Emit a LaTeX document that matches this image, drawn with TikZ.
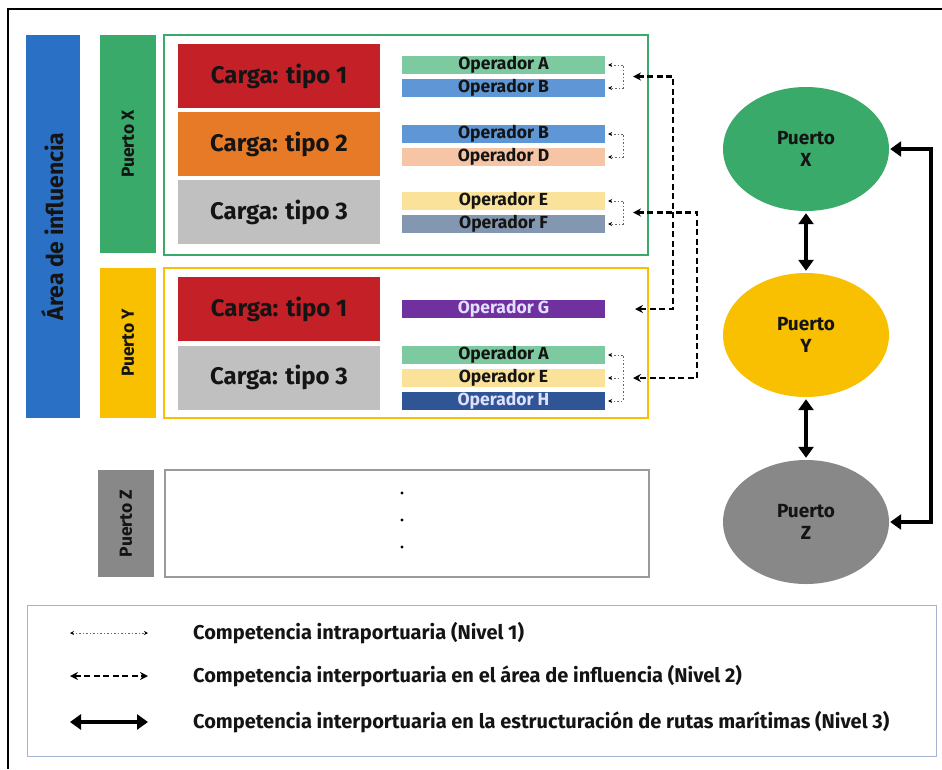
\documentclass[tikz,border=0pt]{standalone}
\usepackage{fontspec}
\setmainfont{Fira Sans}
\usetikzlibrary{positioning,shapes.geometric,arrows.meta}

\definecolor{areablue}{HTML}{2A70C4}
\definecolor{pxgreen}{HTML}{3AAA6A}
\definecolor{pyyellow}{HTML}{F8C000}
\definecolor{pzgray}{HTML}{888888}
\definecolor{framegray}{HTML}{9A9A9A}
\definecolor{cargared}{HTML}{C32127}
\definecolor{cargaorange}{HTML}{E67A26}
\definecolor{cargagray}{HTML}{C0C0C0}
\definecolor{opgreen}{HTML}{7ECAA0}
\definecolor{opblue}{HTML}{5F96D6}
\definecolor{oppeach}{HTML}{F5C5A5}
\definecolor{opyellow}{HTML}{FBE29A}
\definecolor{opslate}{HTML}{8497B0}
\definecolor{oppurple}{HTML}{7030A0}
\definecolor{opnavy}{HTML}{2F5597}
\definecolor{legendline}{HTML}{A4B4D4}
\definecolor{inkdark}{HTML}{141414}

\begin{document}
\begin{tikzpicture}[x=1pt,y=-1pt,on grid,node distance=23pt,font=\bfseries,text=inkdark,
    sidebar/.style={rotate=90,inner sep=0pt,font=\bfseries\fontsize{17.5}{17.5}\selectfont},
    portframe/.style={line width=2pt,minimum width=484pt,inner sep=0pt},
    carga/.style={minimum width=202pt,minimum height=64pt,inner sep=0pt,font=\bfseries\fontsize{24}{24}\selectfont},
    oper/.style={minimum width=203pt,minimum height=18pt,inner sep=0pt,font=\bfseries\fontsize{17.5}{17.5}\selectfont},
    puerto/.style={ellipse,minimum width=166pt,minimum height=124pt,inner sep=0pt,align=center,font=\bfseries\fontsize{19}{22}\selectfont},
    lvlone/.style={draw=black!60,line width=1pt,dash pattern=on 1.5pt off 2pt,shorten <=3pt,shorten >=3pt,{Stealth[length=4pt,width=4pt,black]}-{Stealth[length=4pt,width=4pt,black]}},
    lvltwo/.style={draw=black,line width=2.2pt,dash pattern=on 6pt off 3.5pt,{Stealth[length=8pt,width=8pt]}-{Stealth[length=8pt,width=8pt]}},
    lvlthree/.style={draw=black,line width=4pt,{Triangle[length=11pt,width=15pt]}-{Triangle[length=11pt,width=15pt]}},
    legtext/.style={anchor=west,inner sep=0pt,font=\bfseries\fontsize{20}{20}\selectfont}]
    \useasboundingbox (0,0) rectangle (942,769);
    \draw[line width=2pt] (942,9) -- (8,9) -- (8,769);

    % side bars
    \node[sidebar,fill=areablue,minimum width=383pt,minimum height=54pt,font=\bfseries\fontsize{23}{23}\selectfont] (area) at (53,226.5) {Área de influencia};
    \node[sidebar,fill=pxgreen,minimum width=218pt,minimum height=56pt] (barx) at (128,144) {Puerto X};
    \node[sidebar,fill=pyyellow,minimum width=150pt,minimum height=56pt] (bary) at (128,343) {Puerto Y};
    \node[sidebar,fill=pzgray,minimum width=107pt,minimum height=56pt] (barz) at (126,523.5) {Puerto Z};

    % port frames
    \node[portframe,draw=pxgreen,minimum height=220pt] (framex) at (406,145) {};
    \node[portframe,draw=pyyellow,minimum height=150pt] (framey) at (406,343) {};
    \node[portframe,draw=framegray,minimum height=107pt] (framez) at (406.5,523.5) {};
    \foreach \y in {493,520,547}
        \fill (402,\y) circle[radius=1.7pt];

    % cargas
    \node[carga,fill=cargared] (cx1) at (279,76) {Carga: tipo 1};
    \node[carga,fill=cargaorange,below=68pt of cx1] (cx2) {Carga: tipo 2};
    \node[carga,fill=cargagray,below=68pt of cx2] (cx3) {Carga: tipo 3};
    \node[carga,fill=cargared] (cy1) at (279,309) {Carga: tipo 1};
    \node[carga,fill=cargagray,below=68.5pt of cy1] (cy3) {Carga: tipo 3};

    % operadores
    \node[oper,fill=opgreen] (xa) at (503.5,65) {Operador A};
    \node[oper,fill=opblue,below=of xa] (xb) {Operador B};
    \node[oper,fill=opblue] (xb2) at (503.5,134) {Operador B};
    \node[oper,fill=oppeach,below=of xb2] (xd) {Operador D};
    \node[oper,fill=opyellow] (xe) at (503.5,201) {Operador E};
    \node[oper,fill=opslate,below=of xe] (xf) {Operador F};
    \node[oper,fill=oppurple,text=white!88!blue] (yg) at (503.5,309) {Operador G};
    \node[oper,fill=opgreen] (ya) at (503.5,355) {Operador A};
    \node[oper,fill=opyellow,below=of ya] (ye) {Operador E};
    \node[oper,fill=opnavy,text=white!88!blue,below=of ye] (yh) {Operador H};

    % nivel 1
    \draw[lvlone] (xa.east) -- ++(18,0) |- (xb.east);
    \draw[lvlone] (xb2.east) -- ++(18,0) |- (xd.east);
    \draw[lvlone] (xe.east) -- ++(18,0) |- (xf.east);
    \draw[lvlone] (ya.east) -- ++(18,0) |- (yh.east);
    \draw[lvlone,{Stealth[length=4pt,width=4pt,black]}-] (ye.east) -- ++(18,0);

    % nivel 2
    \coordinate (mxab) at (633,76.5);
    \coordinate (mxef) at (633,212.5);
    \coordinate (myg) at (635,309);
    \coordinate (myae) at (633,378);
    \draw[lvltwo] (mxab) -- ++(40,0) |- (myg);
    \draw[lvltwo] (mxef) -- ++(64,0) |- (myae);

    % puertos
    \node[puerto,fill=pxgreen] (px) at (806,149) {Puerto\\X};
    \node[puerto,fill=pyyellow,below=186pt of px] (py) {Puerto\\Y};
    \node[puerto,fill=pzgray,below=187pt of py] (pz) {Puerto\\Z};
    \draw[lvlthree,shorten <=2pt,shorten >=2pt] (px) -- (py);
    \draw[lvlthree,shorten <=2pt,shorten >=2pt] (py) -- (pz);
    \draw[lvlthree,shorten <=1pt,shorten >=1pt] (px.east) -- ++(42,0) |- (pz.east);

    % leyenda
    \node[draw=legendline,line width=1pt,minimum width=909pt,minimum height=151pt] (legend) at (481.5,680.5) {};
    \coordinate (l1a) at (70,633);  \coordinate (l1b) at (148,633);
    \coordinate (l2a) at (70,676);  \coordinate (l2b) at (148,676);
    \coordinate (l3a) at (70,722);  \coordinate (l3b) at (148,722);
    \draw[lvlone,shorten <=0pt,shorten >=0pt] (l1a) -- (l1b);
    \draw[lvltwo,line width=2pt] (l2a) -- (l2b);
    \draw[lvlthree] (l3a) -- (l3b);
    \node[legtext] (t1) at (193,633) {Competencia intraportuaria (Nivel 1)};
    \node[legtext] (t2) at (193,676) {Competencia interportuaria en el área de influencia (Nivel 2)};
    \node[legtext] (t3) at (193,722) {Competencia interportuaria en la estructuración de rutas marítimas (Nivel 3)};
\end{tikzpicture}
\end{document}
